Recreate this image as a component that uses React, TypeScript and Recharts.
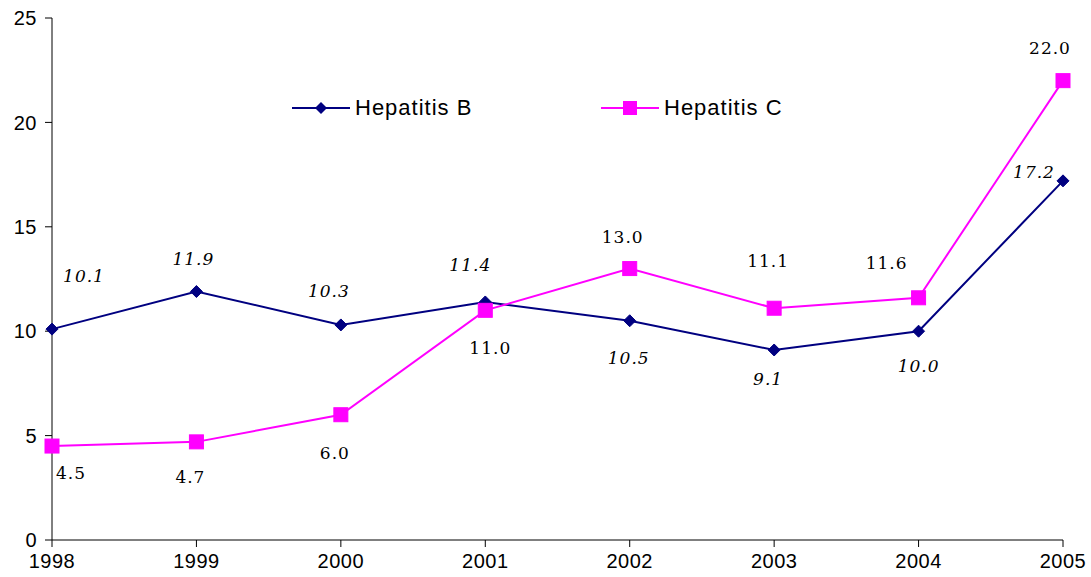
import React from 'react'
import { Line, LineChart, XAxis, YAxis } from 'recharts'

const years = ['1998', '1999', '2000', '2001', '2002', '2003', '2004', '2005']
const hepB = [10.1, 11.9, 10.3, 11.4, 10.5, 9.1, 10.0, 17.2]
const hepC = [4.5, 4.7, 6.0, 11.0, 13.0, 11.1, 11.6, 22.0]
const yTicks = [0, 5, 10, 15, 20, 25]

// label placement relative to each point (dx, dy)
const offsB: Array<[number, number]> = [[32, -53], [-3, -33], [-12, -34], [-15, -37], [-1, 37], [-6, 29], [0, 35], [-29, -9]]
const offsC: Array<[number, number]> = [[19, 27], [-6, 35], [-6, 38], [5, 38], [-7, -32], [-6, -47], [-32, -35], [-13, -33]]

const data = years.map((year, i) => ({ year, b: hepB[i], c: hepC[i] }))

const NAVY = '#000080'
const MAGENTA = '#FF00FF'
const SANS = 'Arial, "Liberation Sans", sans-serif'

const makeLabel = (offs: Array<[number, number]>, italic: boolean) => (props: any) => {
  const { x, y, value, index } = props
  const [dx, dy] = offs[index]
  return (
    <text
      x={x + dx}
      y={y + dy}
      textAnchor="middle"
      dominantBaseline="central"
      fontFamily="'DejaVu Serif', serif"
      fontSize={17}
      fontStyle={italic ? 'italic' : 'normal'}
      letterSpacing={1}
      fill="#000"
    >
      {Number(value).toFixed(1)}
    </text>
  )
}

const Diamond = (props: any) => {
  const { cx, cy } = props
  if (cx == null || cy == null) return null
  return <path d={`M${cx},${cy - 6} L${cx + 6},${cy} L${cx},${cy + 6} L${cx - 6},${cy} Z`} fill={NAVY} stroke={NAVY} />
}

const Square = (props: any) => {
  const { cx, cy } = props
  if (cx == null || cy == null) return null
  return <rect x={cx - 7} y={cy - 7} width={14} height={14} fill={MAGENTA} stroke={MAGENTA} />
}

function LegendItem({ color, label, marker }: { color: string; label: string; marker: React.ReactNode }) {
  return (
    <div style={{ display: 'flex', alignItems: 'center' }}>
      <svg width={58} height={18}>
        <line x1={0} y1={9} x2={58} y2={9} stroke={color} strokeWidth={2} />
        {marker}
      </svg>
      <span style={{ fontFamily: SANS, fontSize: 22, color: '#000', marginLeft: 5, letterSpacing: 1 }}>{label}</span>
    </div>
  )
}

export default function App() {
  return (
    <div style={{ position: 'absolute', left: 0, top: 0, width: 1091, height: 577, background: '#fff' }}>
      <LineChart width={1091} height={577} data={data} margin={{ top: 18, right: 28, left: 0, bottom: 0 }}>
        <XAxis
          dataKey="year"
          height={37}
          stroke="#000"
          tickSize={7}
          tick={{ fill: '#000', fontSize: 20, fontFamily: SANS, letterSpacing: 0.5 }}
          tickMargin={7}
        />
        <YAxis
          width={52}
          domain={[0, 25]}
          ticks={yTicks}
          stroke="#000"
          tickSize={7}
          tick={{ fill: '#000', fontSize: 20, fontFamily: SANS, letterSpacing: 0.5 }}
          tickMargin={8}
        />
        <Line
          type="linear"
          dataKey="b"
          stroke={NAVY}
          strokeWidth={2}
          dot={<Diamond />}
          label={makeLabel(offsB, true)}
          isAnimationActive={false}
        />
        <Line
          type="linear"
          dataKey="c"
          stroke={MAGENTA}
          strokeWidth={2}
          dot={<Square />}
          label={makeLabel(offsC, false)}
          isAnimationActive={false}
        />
      </LineChart>
      <div style={{ position: 'absolute', left: 292, top: 95 }}>
        <LegendItem color={NAVY} label="Hepatitis B" marker={<path d="M29,3 L35,9 L29,15 L23,9 Z" fill={NAVY} />} />
      </div>
      <div style={{ position: 'absolute', left: 601, top: 95 }}>
        <LegendItem color={MAGENTA} label="Hepatitis C" marker={<rect x={22} y={2} width={14} height={14} fill={MAGENTA} />} />
      </div>
    </div>
  )
}
